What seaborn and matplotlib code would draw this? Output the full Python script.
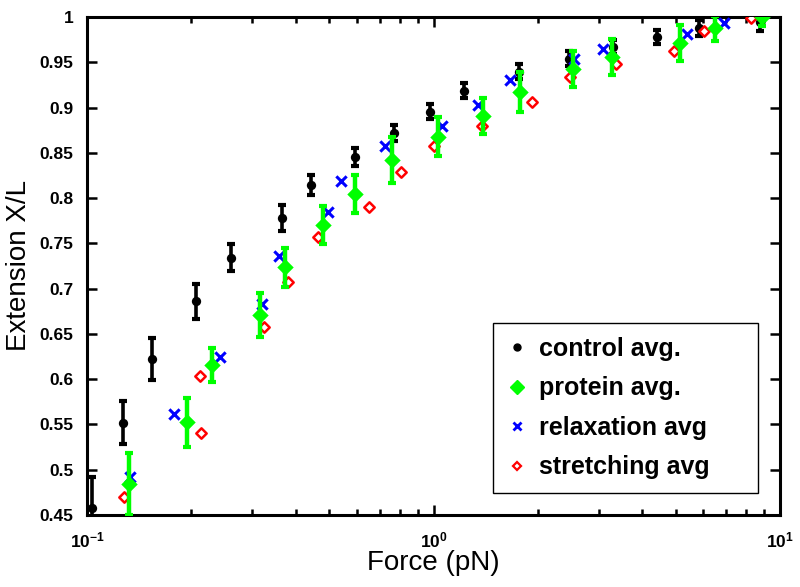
import matplotlib
matplotlib.use("Agg")
import matplotlib.pyplot as plt
import seaborn as sns
import numpy as np
import pandas as pd
from matplotlib.lines import Line2D

# ---- data ----
control_force = [0.103, 0.127, 0.154, 0.206, 0.26, 0.364, 0.443, 0.594, 0.767, 0.975,
                 1.22, 1.77, 2.46, 3.29, 4.41, 5.85, 8.75]
control_ext = [0.458, 0.552, 0.622, 0.686, 0.734, 0.778, 0.8145, 0.845, 0.8716, 0.8954,
               0.9186, 0.9396, 0.954, 0.967, 0.978, 0.9875, 0.995]
control_err = [0.034, 0.024, 0.023, 0.019, 0.015, 0.014, 0.011, 0.010, 0.009, 0.008,
               0.008, 0.008, 0.008, 0.008, 0.008, 0.009, 0.010]

protein_force = [0.132, 0.194, 0.229, 0.316, 0.372, 0.479, 0.594, 0.759, 1.03, 1.39,
                 1.78, 2.52, 3.27, 5.15, 6.49, 8.89]
protein_ext = [0.484, 0.5524, 0.6157, 0.671, 0.7234, 0.770, 0.8045, 0.842, 0.868, 0.891,
               0.9175, 0.943, 0.9555, 0.971, 0.9875, 1.0]
protein_err = [0.034, 0.027, 0.019, 0.024, 0.022, 0.021, 0.0215, 0.025, 0.022, 0.02,
               0.022, 0.02, 0.02, 0.02, 0.014, 0.01]

relax_force = [0.133, 0.1775, 0.241, 0.319, 0.357, 0.494, 0.54, 0.726, 1.06, 1.34,
               1.66, 2.55, 3.08, 5.38, 6.9]
relax_ext = [0.4917, 0.5616, 0.625, 0.683, 0.7364, 0.785, 0.819, 0.857, 0.8796, 0.9028,
             0.9304, 0.954, 0.9647, 0.981, 0.9937]

stretch_force = [0.128, 0.213, 0.2119, 0.323, 0.381, 0.465, 0.649, 0.804, 1.0, 1.38,
                 1.92, 2.48, 3.36, 4.94, 6.03, 8.25]
stretch_ext = [0.4696, 0.540, 0.604, 0.6576, 0.7077, 0.7574, 0.7905, 0.829, 0.857, 0.8796,
               0.9065, 0.934, 0.9478, 0.9625, 0.985, 0.9986]

labels = ["control avg.", "protein avg.", "relaxation avg", "stretching avg"]
y_ticks = [0.45, 0.5, 0.55, 0.6, 0.65, 0.7, 0.75, 0.8, 0.85, 0.9, 0.95, 1]
y_tick_labels = ["0.45", "0.5", "0.55", "0.6", "0.65", "0.7", "0.75", "0.8", "0.85", "0.9", "0.95", "1"]

# ---- style ----
sns.set_style("ticks")
plt.rcParams['font.family'] = ['Liberation Sans', 'DejaVu Sans']
plt.rcParams['text.color'] = 'black'
plt.rcParams['axes.labelcolor'] = 'black'
plt.rcParams['xtick.color'] = 'black'
plt.rcParams['ytick.color'] = 'black'

fig = plt.figure(figsize=(8.0, 5.87), dpi=100)
ax = fig.add_axes([0.109, 0.1227, 0.866, 0.8483])

ctrl = pd.DataFrame({"force": control_force, "ext": control_ext, "err": control_err})
prot = pd.DataFrame({"force": protein_force, "ext": protein_ext, "err": protein_err})
relx = pd.DataFrame({"force": relax_force, "ext": relax_ext})
strt = pd.DataFrame({"force": stretch_force, "ext": stretch_ext})

# control
ax.errorbar(ctrl["force"], ctrl["ext"], yerr=ctrl["err"], fmt="none", ecolor="black",
            elinewidth=2.6, capsize=3, capthick=3, zorder=2)
sns.scatterplot(data=ctrl, x="force", y="ext", ax=ax, color="black", marker="o",
                s=45, edgecolor="black", linewidth=0, zorder=3)
# relaxation
sns.scatterplot(data=relx, x="force", y="ext", ax=ax, color="#0000ff", marker="x",
                s=55, linewidth=2.2, zorder=4)
# stretching
sns.scatterplot(data=strt, x="force", y="ext", ax=ax, marker="D", s=28,
                facecolor="white", edgecolor="#ff0000", linewidth=1.8, zorder=5)
# protein
ax.errorbar(prot["force"], prot["ext"], yerr=prot["err"], fmt="none", ecolor="#00ff00",
            elinewidth=3.2, capsize=3, capthick=3, zorder=6)
sns.scatterplot(data=prot, x="force", y="ext", ax=ax, color="#00ff00", marker="D",
                s=70, edgecolor="#00ff00", linewidth=0, zorder=7)

ax.set_xscale("log")
ax.set_xlim(0.1, 10)
ax.set_ylim(0.45, 1)
ax.set_yticks(y_ticks)
ax.set_yticklabels(y_tick_labels)

for sp in ax.spines.values():
    sp.set_visible(True)
    sp.set_linewidth(2.2)
    sp.set_color("black")
ax.tick_params(which="both", direction="in", top=True, right=True, width=1.8,
               colors="black")
ax.tick_params(which="major", length=7)
ax.tick_params(which="minor", length=4)
ax.tick_params(axis="y", which="major", pad=10)
ax.tick_params(axis="x", which="major", pad=11)
for lab in ax.get_xticklabels() + ax.get_yticklabels():
    lab.set_fontweight("bold")
    lab.set_fontsize(12.5)

ax.set_xlabel("Force (pN)", fontsize=20, labelpad=0)
ax.set_ylabel("Extension X/L", fontsize=20, labelpad=5)

handles = [
    Line2D([], [], linestyle="none", marker="o", color="black", markersize=5),
    Line2D([], [], linestyle="none", marker="D", color="#00ff00", markersize=7),
    Line2D([], [], linestyle="none", marker="x", color="#0000ff", markersize=6, markeredgewidth=2),
    Line2D([], [], linestyle="none", marker="D", markerfacecolor="white",
           markeredgecolor="#ff0000", markersize=4, markeredgewidth=1.6),
]
leg = ax.legend(handles, labels, loc="lower left",
                bbox_to_anchor=(0.586, 0.044, 0.382, 0.3375), mode="expand",
                prop={"weight": "bold", "size": 18}, frameon=True, fancybox=False,
                edgecolor="black", framealpha=1, handlelength=0.8, handletextpad=0.5,
                borderpad=0.55, labelspacing=0.62, borderaxespad=0)
leg.get_frame().set_linewidth(1.0)

fig.savefig("out.png", dpi=100)
